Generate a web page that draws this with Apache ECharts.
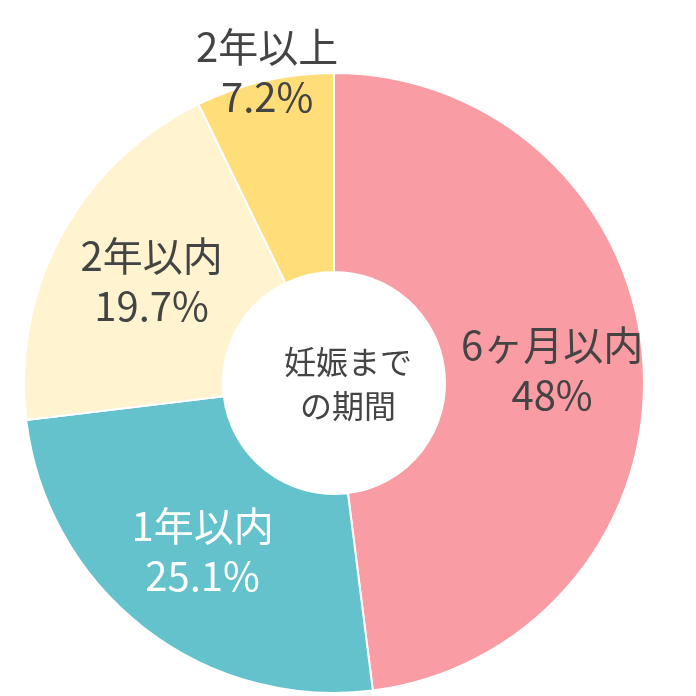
<!DOCTYPE html>
<html>
<head>
<meta charset="UTF-8">
<script src="https://cdn.jsdelivr.net/npm/echarts@6/dist/echarts.min.js"></script>
<style>html,body{margin:0;background:#fff;}</style>
</head>
<body>
<div id="main" style="width:696px;height:696px;"></div>
<script>
var names = ['6ヶ月以内', '1年以内', '2年以内', '2年以上'];
var values = [48, 25.1, 19.7, 7.2];
var colors = ['#F99CA3', '#63C2CB', '#FFF3D0', '#FFDE7A'];
var labelColors = ['#444', '#fff', '#444', '#444'];

var chart = echarts.init(document.getElementById('main'));
chart.setOption({
    animation: false,
    graphic: [{
        type: 'text', left: 'center', top: 340,
        style: {text: '妊娠まで\nの期間', fill: '#444', font: '32px "Noto Sans CJK JP"', textAlign: 'center', lineHeight: 44}
    }],
    series: [{
        type: 'pie',
        center: [334, 383],
        radius: [111, 310],
        startAngle: 90,
        clockwise: true,
        itemStyle: {borderColor: '#fff', borderWidth: 2},
        label: {
            position: 'inside',
            fontSize: 40,
            lineHeight: 50,
            fontFamily: 'Noto Sans CJK JP',
            formatter: '{b}\n{c}%'
        },
        labelLayout: function (p) {
            if (p.dataIndex === 3) return {dx: -19, dy: -103};
            if (p.dataIndex === 0) return {dx: 5, dy: 0};
            if (p.dataIndex === 2) return {dx: 5, dy: 0};
        },
        data: names.map(function (n, i) {
            return {name: n, value: values[i], itemStyle: {color: colors[i]}, label: {color: labelColors[i]}};
        })
    }]
});
</script>
</body>
</html>
